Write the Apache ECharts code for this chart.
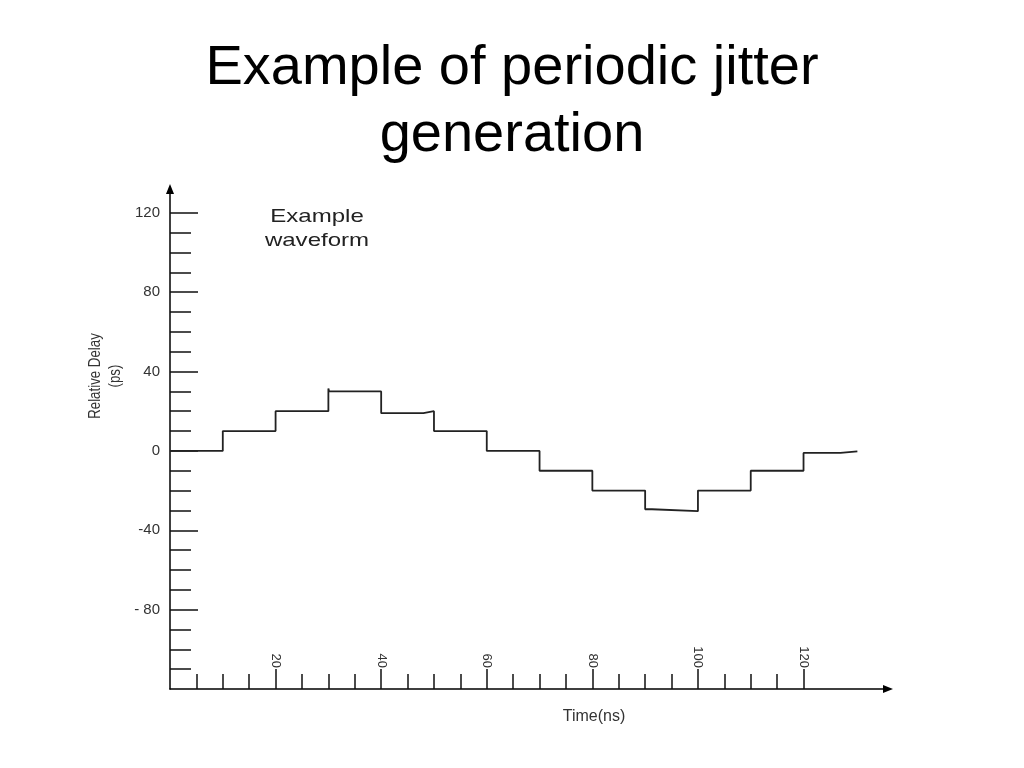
<!DOCTYPE html>
<html>
<head>
<meta charset="utf-8">
<script src="https://cdn.jsdelivr.net/npm/echarts@6/dist/echarts.min.js"></script>
<style>
html,body{margin:0;padding:0;background:#fff;}
#chart{width:1024px;height:768px;}
</style>
</head>
<body>
<div id="chart"></div>
<script>
// Data
const times  = [0, 10, 20, 30, 30.15, 40, 48, 50, 60, 70, 80, 90, 91.3, 100, 110, 120, 127, 130.2];
const delays = [0, 10, 20, 31.5, 30, 19, 20, 10, 0, -10, -20, -29.4, -30.4, -20, -10, -1, -0.2, -0.2];

const yMajorTicks = [-80, -40, 0, 40, 80, 120];
const yMinorTicks = [-110, -100, -90, -70, -60, -50, -30, -20, -10, 10, 20, 30, 50, 60, 70, 90, 100, 110];
const xMajorTicks = [20, 40, 60, 80, 100, 120];
const xMinorTicks = [5, 10, 15, 25, 30, 35, 45, 50, 55, 65, 70, 75, 85, 90, 95, 105, 110, 115];

const titleText = 'Example of periodic jitter\ngeneration';
const yName = 'Relative Delay\n(ps)';
const xName = 'Time(ns)';
const noteText = 'Example\nwaveform';

const chart = echarts.init(document.getElementById('chart'));
const seriesData = times.map((t, i) => [t, delays[i]]);
const sans = 'Liberation Sans, Arial, sans-serif';

const option = {
  animation: false,
  backgroundColor: '#fff',
  title: {
    text: titleText,
    left: 'center',
    top: 30,
    textStyle: { fontSize: 56, fontWeight: 'normal', fontFamily: sans, color: '#000', lineHeight: 67 }
  },
  grid: { left: 170, right: 136, top: 189, bottom: 79, containLabel: false, outerBoundsMode: 'none' },
  xAxis: [{
    type: 'value', min: 0, max: 136, position: 'bottom',
    axisLine: { show: true, onZero: false, lineStyle: { color: '#000', width: 1.5 }, symbol: ['none', 'triangle'], symbolSize: [8, 10] },
    axisTick: { show: true, inside: true, length: 20, customValues: xMajorTicks, lineStyle: { color: '#111', width: 1.5 } },
    axisLabel: { show: true, inside: true, rotate: -90, margin: 21, customValues: xMajorTicks, fontSize: 13, fontFamily: sans, color: '#333' },
    splitLine: { show: false }
  }, {
    type: 'value', min: 0, max: 136, position: 'bottom',
    axisLine: { show: false, onZero: false },
    axisTick: { show: true, inside: true, length: 15, customValues: xMinorTicks, lineStyle: { color: '#111', width: 1.5 } },
    axisLabel: { show: false },
    splitLine: { show: false }
  }],
  yAxis: [{
    type: 'value', min: -120, max: 132, position: 'left',
    axisLine: { show: true, onZero: false, lineStyle: { color: '#000', width: 1.5 }, symbol: ['none', 'triangle'], symbolSize: [8, 10] },
    axisTick: { show: true, inside: true, length: 28, customValues: yMajorTicks, lineStyle: { color: '#111', width: 1.5 } },
    axisLabel: { show: true, margin: 10, customValues: yMajorTicks, fontSize: 15, fontFamily: sans, color: '#333',
      formatter: v => (v === -80 ? '- 80' : String(v)) },
    splitLine: { show: false }
  }, {
    type: 'value', min: -120, max: 132, position: 'left', offset: 0,
    axisLine: { show: false, onZero: false },
    axisTick: { show: true, inside: true, length: 21, customValues: yMinorTicks, lineStyle: { color: '#111', width: 1.5 } },
    axisLabel: { show: false },
    splitLine: { show: false }
  }],
  series: [{
    type: 'line',
    xAxisIndex: 0, yAxisIndex: 0,
    step: 'end',
    showSymbol: false,
    data: seriesData,
    lineStyle: { color: '#222', width: 1.8 }
  }],
  graphic: [
    {
      type: 'text', x: 106, y: 376, rotation: Math.PI / 2, scaleX: 0.83,
      style: { text: yName, align: 'center', verticalAlign: 'middle', fontSize: 16, lineHeight: 20,
        fontFamily: sans, fill: '#333' }
    },
    {
      type: 'text', x: 594, y: 717,
      style: { text: xName, align: 'center', verticalAlign: 'middle', fontSize: 16, fontFamily: sans, fill: '#333' }
    },
    {
      type: 'text', x: 317, y: 229, scaleX: 1.3,
      style: { text: noteText, align: 'center', verticalAlign: 'middle', fontSize: 18.5, lineHeight: 23.4, fontFamily: sans, fill: '#222' }
    }
  ]
};
chart.setOption(option);
</script>
</body>
</html>
